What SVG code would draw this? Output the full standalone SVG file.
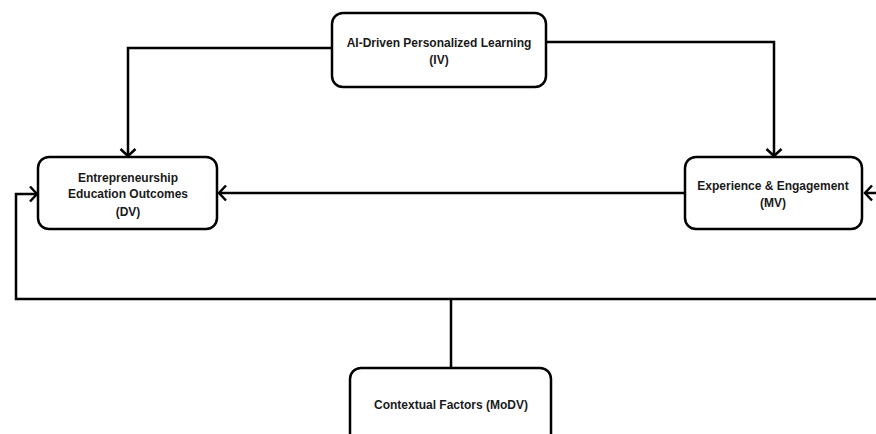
<svg xmlns="http://www.w3.org/2000/svg" width="876" height="434" viewBox="0 0 876 434">
<style>
.box{fill:#fff;stroke:#000;stroke-width:2.5}
.lbl{font-family:"Liberation Sans",Arial,sans-serif;font-weight:bold;font-size:12px;fill:#1a1a1a;text-anchor:middle}
.con{fill:none;stroke:#000;stroke-width:2.5}
</style>
<defs>
<marker id="arr" markerUnits="userSpaceOnUse" markerWidth="20" markerHeight="20" refX="0" refY="0" viewBox="-12 -10 14 20" orient="auto" overflow="visible">
<path d="M-7,-7.5 L0,0 L-7,7.5" fill="none" stroke="#000" stroke-width="2.5"/>
</marker>
</defs>
<rect width="876" height="434" fill="#fff"/>
<g id="connectors">
<path class="con" d="M332,48 H128 V156" marker-end="url(#arr)"/>
<path class="con" d="M546,42 H774 V156" marker-end="url(#arr)"/>
<path class="con" d="M685,193 H219" marker-end="url(#arr)"/>
<path class="con" d="M451,368 V299"/>
<path class="con" d="M890,299 H16 V194 H37" marker-end="url(#arr)"/>
<path class="con" d="M890,299 V193 H865" marker-end="url(#arr)"/>
</g>
<g id="iv">
<rect class="box" x="332" y="13" width="214" height="74" rx="11"/>
<text class="lbl" x="439" y="47">AI-Driven Personalized Learning</text>
<text class="lbl" x="439" y="64">(IV)</text>
</g>
<g id="dv">
<rect class="box" x="38" y="157" width="179" height="72" rx="11"/>
<text class="lbl" x="128" y="182">Entrepreneurship</text>
<text class="lbl" x="128" y="198">Education Outcomes</text>
<text class="lbl" x="128" y="216">(DV)</text>
</g>
<g id="mv">
<rect class="box" x="685" y="157" width="177" height="72" rx="11"/>
<text class="lbl" x="773" y="190">Experience &amp; Engagement</text>
<text class="lbl" x="773" y="207">(MV)</text>
</g>
<g id="modv">
<rect class="box" x="350" y="368" width="201" height="80" rx="11"/>
<text class="lbl" x="451" y="409">Contextual Factors (MoDV)</text>
</g>
</svg>
